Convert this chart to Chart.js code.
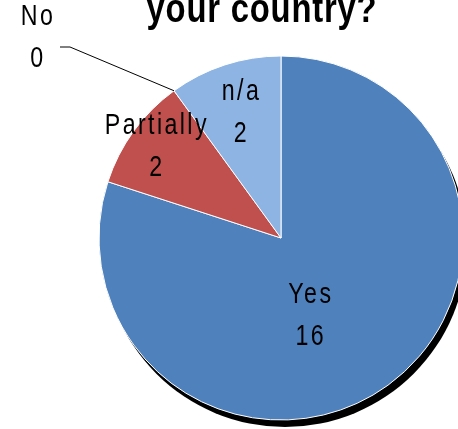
<!DOCTYPE html>
<html>
<head>
<meta charset="utf-8">
<script src="https://cdn.jsdelivr.net/npm/chart.js@4"></script>
<style>
  html, body { margin: 0; padding: 0; background: #fff; overflow: hidden; }
  #wrap { width: 458px; height: 429px; position: relative; }
</style>
</head>
<body>
<div id="wrap"><canvas id="c"></canvas></div>
<script>
// ---- data ----
const categories = ['Yes', 'Partially', 'No', 'n/a'];
const answers = [16, 2, 0, 2];
const sliceColors = ['#4F81BD', '#C0504D', '#9BBB59', '#8EB4E3'];
const titleText = 'your country?';

// ---- label placement (styling, not data) ----
const labelLayout = {
  'Yes':       { frac: 0.455, shiftDeg: 15.6 },
  'Partially': { frac: 0.85,  shiftDeg: 0 },
  'n/a':       { frac: 0.72,  shiftDeg: 0 },
  'No':        { leader: true, dx: -244, dy: -200, elbowDx: -211, elbowDy: -191, endDx: -221 }
};
const FONT = '"Liberation Sans", Arial, sans-serif';
const NARROW = 0.8;

function narrowText(ctx, text, x, y) {
  ctx.save();
  ctx.translate(x, y);
  ctx.scale(NARROW, 1);
  ctx.fillText(text, 0, 0);
  ctx.restore();
}

const decor = {
  id: 'decor',
  beforeDatasetsDraw(chart) {
    const arc = chart.getDatasetMeta(0).data[0];
    const ctx = chart.ctx;
    ctx.save();
    ctx.fillStyle = '#000';
    ctx.beginPath();
    ctx.arc(arc.x + 4, arc.y + 7, arc.outerRadius, 0, Math.PI * 2);
    ctx.fill();
    ctx.restore();
  },
  afterDatasetsDraw(chart) {
    const ctx = chart.ctx;
    const meta = chart.getDatasetMeta(0);
    ctx.save();
    ctx.fillStyle = '#000';
    ctx.textAlign = 'center';
    ctx.textBaseline = 'middle';
    ctx.font = '29px ' + FONT;
    ctx.letterSpacing = '3px';
    meta.data.forEach((arc, i) => {
      const name = categories[i];
      const lay = labelLayout[name];
      let lx, ly;
      if (lay.leader) {
        lx = arc.x + lay.dx; ly = arc.y + lay.dy;
        const a = arc.startAngle;
        const ex = arc.x + arc.outerRadius * Math.cos(a);
        const ey = arc.y + arc.outerRadius * Math.sin(a);
        ctx.save();
        ctx.strokeStyle = '#000';
        ctx.lineWidth = 1;
        ctx.beginPath();
        ctx.moveTo(ex, ey);
        ctx.lineTo(arc.x + lay.elbowDx, arc.y + lay.elbowDy);
        ctx.lineTo(arc.x + lay.endDx, arc.y + lay.elbowDy);
        ctx.stroke();
        ctx.restore();
      } else {
        const mid = (arc.startAngle + arc.endAngle) / 2 + lay.shiftDeg * Math.PI / 180;
        const r = arc.outerRadius * lay.frac;
        lx = arc.x + r * Math.cos(mid);
        ly = arc.y + r * Math.sin(mid);
      }
      narrowText(ctx, name, lx + 1, ly - 21);
      narrowText(ctx, String(answers[i]), lx + 1, ly + 21);
    });
    // title (top cut off, as in the reference)
    ctx.font = 'bold 41px ' + FONT;
    ctx.letterSpacing = '1px';
    ctx.textBaseline = 'alphabetic';
    narrowText(ctx, titleText, 262, 22);
    ctx.restore();
  }
};

new Chart(document.getElementById('c'), {
  type: 'pie',
  data: {
    labels: categories,
    datasets: [{
      data: answers,
      backgroundColor: sliceColors,
      borderColor: '#ffffff',
      borderWidth: 1,
      radius: 182,
      clip: false
    }]
  },
  options: {
    responsive: true,
    maintainAspectRatio: false,
    animation: false,
    layout: { padding: { left: 104, right: 0, top: 55, bottom: 8 } },
    plugins: {
      legend: { display: false },
      tooltip: { enabled: false },
      title: { display: false }
    }
  },
  plugins: [decor]
});
</script>
</body>
</html>
